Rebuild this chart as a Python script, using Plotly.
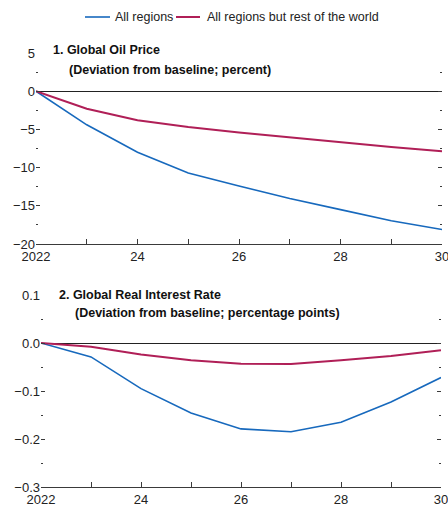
import plotly.graph_objects as go

years = [2022, 2023, 2024, 2025, 2026, 2027, 2028, 2029, 2030]
year_labels = ["2022", "", "24", "", "26", "", "28", "", "30"]

# Panel 1: global oil price, deviation from baseline (percent)
oil_all = [0.0, -4.4, -8.0, -10.7, -12.4, -14.05, -15.5, -16.95, -18.1]
oil_ex_row = [0.0, -2.3, -3.8, -4.7, -5.4, -6.05, -6.7, -7.3, -7.85]

# Panel 2: global real interest rate, deviation from baseline (percentage points)
rate_all = [0.0, -0.029, -0.095, -0.146, -0.179, -0.185, -0.165, -0.123, -0.072]
rate_ex_row = [0.0, -0.008, -0.024, -0.036, -0.043, -0.044, -0.036, -0.027, -0.015]

series_names = ["All regions", "All regions but rest of the world"]
series_colors = ["#1769BD", "#B01F57"]
series_widths = [1.6, 2.0]

W, H = 448, 506
FONT = "Liberation Sans, Arial, sans-serif"
AXIS_COLOR = "#3a3a3a"

fig = go.Figure()

for vals, name, color, width in zip([oil_all, oil_ex_row], series_names,
                                    series_colors, series_widths):
    fig.add_trace(go.Scatter(x=years, y=vals, mode="lines", name=name,
                             line=dict(color=color, width=width),
                             xaxis="x", yaxis="y", showlegend=False))

for vals, name, color, width in zip([rate_all, rate_ex_row], series_names,
                                    series_colors, series_widths):
    fig.add_trace(go.Scatter(x=years, y=vals, mode="lines", name=name,
                             line=dict(color=color, width=width),
                             xaxis="x2", yaxis="y2", showlegend=False))


def px_x(a, b):
    return [a / W, b / W]


def px_y(top, bottom):
    return [1 - bottom / H, 1 - top / H]


xaxis_common = dict(
    range=[2022, 2030], tickvals=years, ticktext=year_labels,
    ticks="inside", ticklen=5, tickcolor=AXIS_COLOR, tickwidth=1,
    showline=True, linecolor=AXIS_COLOR, linewidth=1,
    showgrid=False, zeroline=False, automargin=False,
    ticklabeloverflow="allow",
    tickfont=dict(family=FONT, size=13, color="#222"),
)
yaxis_common = dict(
    ticks="inside", ticklen=4, tickcolor=AXIS_COLOR, tickwidth=1,
    showline=False, mirror="ticks", showgrid=False,
    zeroline=True, zerolinecolor="#222", zerolinewidth=1.3,
    automargin=False, ticklabeloverflow="allow",
    tickfont=dict(family=FONT, size=13, color="#222"),
)

fig.update_layout(
    width=W, height=H,
    margin=dict(l=0, r=0, t=0, b=0),
    paper_bgcolor="white", plot_bgcolor="white",
    font=dict(family=FONT, size=13, color="#222"),
    showlegend=False,
    xaxis=dict(domain=px_x(36, 442), anchor="y", **xaxis_common),
    yaxis=dict(domain=px_y(53, 244), anchor="x", range=[-20, 5],
               tickvals=[-20, -15, -10, -5, 0, 5],
               ticktext=["\u221220", "\u221215", "\u221210", "\u22125", "0", "5"],
               minor=dict(dtick=2.5, tick0=0, ticks="inside", ticklen=2,
                          tickcolor=AXIS_COLOR),
               **yaxis_common),
    xaxis2=dict(domain=px_x(41, 441), anchor="y2", **xaxis_common),
    yaxis2=dict(domain=px_y(295, 487), anchor="x2", range=[-0.3, 0.1],
                tickvals=[-0.3, -0.2, -0.1, 0.0, 0.1],
                ticktext=["\u22120.3", "\u22120.2", "\u22120.1", "0.0", "0.1"],
                minor=dict(dtick=0.05, tick0=0, ticks="inside", ticklen=2,
                           tickcolor=AXIS_COLOR),
                **yaxis_common),
)

# Legend row drawn as short line swatches with labels
legend_y = 1 - 17 / H
legend_items = [(85, 110, 113), (176, 200, 205)]
for (x0, x1, xt), name, color, width in zip(legend_items, series_names,
                                            series_colors, series_widths):
    fig.add_shape(type="line", xref="paper", yref="paper",
                  x0=x0 / W, x1=x1 / W, y0=legend_y, y1=legend_y,
                  line=dict(color=color, width=width))
    fig.add_annotation(text=name, xref="paper", yref="paper",
                       x=xt / W, y=legend_y, xanchor="left", yanchor="middle",
                       showarrow=False,
                       font=dict(family=FONT, size=12.5, color="#222"))

titles = [
    ("<b>1. Global Oil Price</b>", 51, 50),
    ("<b>(Deviation from baseline; percent)</b>", 67, 70),
    ("<b>2. Global Real Interest Rate</b>", 57, 295),
    ("<b>(Deviation from baseline; percentage points)</b>", 73, 313),
]
for text, x0, yc in titles:
    fig.add_annotation(text=text, xref="paper", yref="paper",
                       x=x0 / W, y=1 - yc / H, xanchor="left", yanchor="middle",
                       showarrow=False,
                       font=dict(family=FONT, size=12.5, color="#111"))

fig.write_html("out.html")
